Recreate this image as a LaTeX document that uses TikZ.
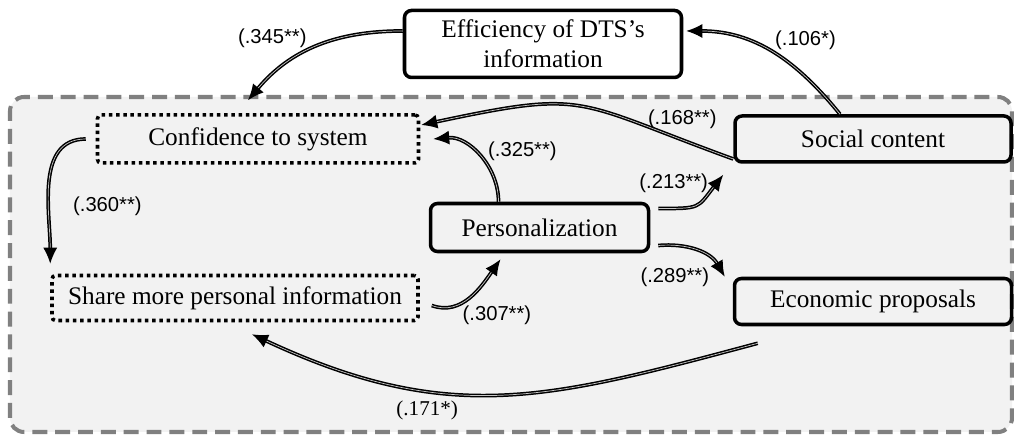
\documentclass[tikz,border=0pt]{standalone}
\usepackage{fontspec}
\setmainfont{Liberation Serif}
\newfontfamily\labsans{Liberation Sans}
\usetikzlibrary{positioning,arrows.meta}
\definecolor{panelbg}{HTML}{F2F2F2}
\definecolor{paneledge}{HTML}{808080}

\begin{document}
\begin{tikzpicture}[
  box/.style={draw, line width=2pt, rounded corners=4pt, align=center,
              font=\fontsize{14.4}{17}\selectfont, inner sep=2pt},
  dotbox/.style={box, rounded corners=2pt, dash pattern=on 2pt off 2.1pt},
  conn/.style={-{Latex[length=3.2mm, width=2.8mm]}, line width=0.85pt,
               double=gray!45, double distance=0.4pt},
  lab/.style={font=\labsans\fontsize{11.5}{13}\selectfont, inner sep=1pt}]
\useasboundingbox (0,0) rectangle (20.28,8.7);
\draw[draw=paneledge, fill=panelbg, line width=2.3pt, dash pattern=on 8.5pt off 4.5pt,
      rounded corners=8pt] (0.2,0.06) rectangle (20.24,6.76);
\node[dotbox, minimum width=64.2mm, minimum height=9.6mm] (conf) at (5.16,5.92) {Confidence to system};
\node[dotbox, minimum width=73.2mm, minimum height=9mm, below=21.8mm of conf, xshift=-4.6mm] (share) {Share more personal information};
\node[box, minimum width=43.6mm, minimum height=9.6mm, right=1.8mm of share, yshift=14.1mm] (pers) {Personalization};
\node[box, minimum width=55.2mm, minimum height=9.2mm, right=62.6mm of conf] (soc) {Social content};
\node[box, minimum width=55.4mm, minimum height=9.2mm, below=22.6mm of soc] (eco) {Economic proposals};
\node[box, minimum width=55.4mm, minimum height=13.4mm, above=6.8mm of conf, xshift=57mm] (eff) {Efficiency of DTS’s\\information};
\draw[conn] ([yshift=2.6mm]eff.west) to[out=180, in=50] node[lab, pos=0.55, above left]{(.345**)} ([xshift=-2mm, yshift=2.6mm]conf.north);
\draw[conn] ([xshift=-6.6mm]soc.north) to[out=129, in=0] node[lab, pos=0.5, above right]{(.106*)} ([xshift=0.6mm, yshift=2.6mm]eff.east);
\draw[conn] ([yshift=-4mm]soc.west) to[out=160, in=12, looseness=1.4] node[lab, pos=0.12, above=1.8mm]{(.168**)} ([xshift=0.2mm, yshift=2.8mm]conf.east);
\draw[conn] ([xshift=-8.2mm]pers.north) to[out=90, in=5] node[lab, pos=0.4, above right]{(.325**)} ([xshift=2.6mm]conf.east);
\draw[conn] ([xshift=-2mm]conf.west) to[out=180, in=90] node[lab, pos=0.65, right=4.5mm]{(.360**)} ([yshift=2mm]share.north west);
\draw[conn] ([xshift=2.4mm, yshift=-1.5mm]share.east) to[out=-20, in=235] node[lab, pos=0.35, below right]{(.307**)} ([xshift=-7.8mm, yshift=-1.2mm]pers.south);
\draw[conn] ([xshift=1.6mm, yshift=3.8mm]pers.east) to[out=0, in=232, looseness=1.5] node[lab, pos=0.14, above=2.6mm]{(.213**)} ([xshift=-2mm, yshift=-2.2mm]soc.south west);
\draw[conn] ([xshift=1.6mm, yshift=-3.6mm]pers.east) to[out=5, in=120] node[lab, pos=0.2, below=4mm]{(.289**)} ([xshift=-1.6mm]eco.north west);
\draw[conn] ([xshift=5mm, yshift=-3.4mm]eco.south west) to[out=195, in=-25, looseness=1.1] node[lab, pos=0.66, below=1.6mm, font=\fontsize{12}{14}\selectfont]{(.171*)} ([xshift=3.4mm, yshift=-2.4mm]share.south);
\end{tikzpicture}
\end{document}
